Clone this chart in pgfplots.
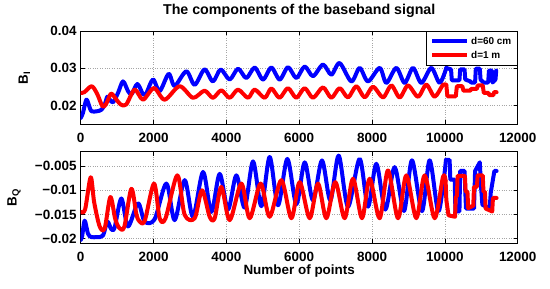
\documentclass[border=0pt]{standalone}
\usepackage{fontspec}
\setmainfont{Liberation Sans}
\usepackage{pgfplots}
\pgfplotsset{compat=1.18}
\definecolor{mblue}{RGB}{0,0,255}
\definecolor{mred}{RGB}{255,0,0}

\begin{document}
\begin{tikzpicture}
\pgfplotsset{
  panel/.style={
    scale only axis, width=437bp,
    xmin=0, xmax=12000,
    scaled ticks=false,
    xtick={0,2000,4000,6000,8000,10000,12000},
    xticklabels={0,2000,4000,6000,8000,10000,12000},
    grid=major,
    major grid style={dotted, gray!70, line width=0.6bp},
    axis line style={black, line width=0.7bp},
    tick align=inside, major tick length=4bp,
    tick style={black, line width=0.6bp},
    tick label style={font=\fontsize{13.5}{14}\selectfont\bfseries},
    xticklabel style={anchor=north, inner sep=0pt, yshift=-9bp},
    yticklabel style={anchor=east, inner sep=0pt, xshift=-4bp},
    label style={font=\fontsize{13.5}{14}\selectfont\bfseries},
  },
  sig/.style={line width=4bp, line join=round, line cap=round},
}
% invisible frame giving the reference's margins
\path (-80.7bp,31bp) rectangle (469.3bp,-258bp);

% ---------------- B_I ----------------
\begin{axis}[panel, at={(0,0)}, anchor=north west, height=93.3bp,
  ymin=0.015, ymax=0.04,
  ytick={0.02,0.03,0.04}, yticklabels={0.02,0.03,0.04},
  title={The components of the baseband signal},
  title style={font=\fontsize{14.3}{15}\selectfont\bfseries,
    at={(axis description cs:0.5,1)}, anchor=base, yshift=11bp},
  ylabel={B\textsubscript{I}},
  ylabel style={at={(axis description cs:-0.1206,0.5)}, anchor=base},
  legend style={at={(1,1)}, anchor=north east, draw=black, line width=0.7bp,
    fill=white, font=\fontsize{10}{12}\selectfont\bfseries,
    inner xsep=4bp, inner ysep=3.5bp, row sep=1.5bp, cells={anchor=west}},
  legend image code/.code={\draw[#1, line cap=butt] (0bp,0bp) -- (35bp,0bp);},
]
\addplot[sig, mblue, smooth, tension=0.5] coordinates {
 (0,0.0167) (60,0.0180) (155,0.0216) (230,0.0200) (293,0.0185) (450,0.0185)
 (570,0.0189) (660,0.0203) (731,0.0224) (800,0.0216) (888,0.0209) (1024,0.0234)
 (1162,0.0265) (1299,0.0239) (1400,0.0231) (1555,0.0258) (1711,0.0231) (1800,0.0233)
 (1985,0.0270) (2168,0.0239) (2415,0.0285) (2580,0.0253) (2900,0.0292) (3130,0.0256)
 (3400,0.0297) (3630,0.0265) (3843,0.0297) (4090,0.0270) (4320,0.0299) (4548,0.0274)
 (4777,0.0302) (5006,0.0270) (5235,0.0302) (5464,0.0270) (5693,0.0303) (5922,0.0274)
 (6150,0.0305) (6379,0.0279) (6653,0.0310) (6882,0.0283) (7111,0.0314) (7431,0.0265)
 (7660,0.0301) (7889,0.0265) (8210,0.0301) (8393,0.0261) (8667,0.0301) (8896,0.0261)
 (9125,0.0301) (9354,0.0261) (9628,0.0301) (9857,0.0261) (10040,0.0301)
};
\addlegendentry{d=60 cm}
\addplot[sig, mblue, forget plot] coordinates {
 (10040,0.0301) (10170,0.0297) (10190,0.0268) (10400,0.0268) (10420,0.0297)
 (10540,0.0297) (10560,0.0270) (10700,0.0265) (10720,0.0262) (10830,0.0262)
 (10850,0.0299) (10960,0.0299) (10980,0.0270) (11060,0.0262) (11190,0.0262)
 (11210,0.0294) (11290,0.0294) (11310,0.0262) (11390,0.0270) (11410,0.0294)
};
\addplot[sig, mred, smooth, tension=0.5] coordinates {
 (0,0.0234) (100,0.0236) (300,0.0252) (450,0.0232) (600,0.0198) (700,0.0205)
 (830,0.0232) (950,0.0220) (1100,0.0203) (1250,0.0203) (1482,0.0243) (1711,0.0216)
 (2013,0.0247) (2306,0.0216) (2717,0.0252) (3084,0.0221) (3400,0.0240) (3630,0.0221)
 (3860,0.0241) (4090,0.0221) (4320,0.0243) (4594,0.0221) (4777,0.0243) (5052,0.0221)
 (5235,0.0246) (5460,0.0221) (5690,0.0247) (5920,0.0221) (6150,0.0247) (6379,0.0221)
 (6653,0.0249) (6882,0.0221) (7111,0.0247) (7340,0.0222) (7569,0.0252) (7798,0.0222)
 (8027,0.0251) (8301,0.0222) (8530,0.0254) (8759,0.0222) (8988,0.0254) (9262,0.0224)
 (9491,0.0256) (9720,0.0224) (9949,0.0256) (10040,0.0255)
};
\addlegendentry{d=1 m}
\addplot[sig, mred, forget plot] coordinates {
 (10040,0.0255) (10070,0.0225) (10300,0.0225) (10330,0.0252) (10480,0.0252)
 (10510,0.0240) (10700,0.0240) (10720,0.0245) (10880,0.0245) (10900,0.0254)
 (11040,0.0254) (11070,0.0234) (11200,0.0234) (11220,0.0228) (11330,0.0228)
 (11350,0.0236) (11420,0.0236)
};
\end{axis}

% ---------------- B_Q ----------------
\begin{axis}[panel, at={(0,-120.7bp)}, anchor=north west, height=91.6bp,
  ymin=-0.021, ymax=-0.002,
  ytick={-0.02,-0.015,-0.01,-0.005},
  yticklabels={−0.02,−0.015,−0.01,−0.005},
  ylabel={B\textsubscript{Q}},
  ylabel style={at={(axis description cs:-0.1465,0.5)}, anchor=base},
  xlabel={Number of points},
  xlabel style={at={(axis description cs:0.5,0)}, anchor=base, yshift=-31bp},
]
\addplot[sig, mblue, smooth, tension=0.5] coordinates {
 (0,-0.0203) (40,-0.0195) (109,-0.0163) (200,-0.0190) (290,-0.0197) (450,-0.0197)
 (612,-0.0194) (731,-0.0165) (841,-0.0181) (933,-0.0177) (1116,-0.0117) (1299,-0.0175)
 (1573,-0.0127) (1757,-0.0165) (2031,-0.0160) (2352,-0.0086) (2580,-0.0162)
 (2855,-0.0079) (3084,-0.0155) (3359,-0.0062) (3587,-0.0145) (3816,-0.0066)
 (4045,-0.0140) (4274,-0.0069) (4503,-0.0136) (4732,-0.0040) (4960,-0.0133)
 (5189,-0.0031) (5418,-0.0131) (5675,-0.0035) (5922,-0.0129) (6150,-0.0042)
 (6379,-0.0121) (6626,-0.0038) (6855,-0.0121) (7084,-0.0028) (7340,-0.0134)
 (7660,-0.0035) (7889,-0.0134) (8118,-0.0045) (8365,-0.0140) (8621,-0.0052)
 (8878,-0.0143) (9097,-0.0038) (9372,-0.0143) (9582,-0.0038) (9811,-0.0143)
 (9950,-0.0090) (10030,-0.0037)
};
\addplot[sig, mblue] coordinates {
 (10030,-0.0037) (10130,-0.0037) (10150,-0.0078) (10270,-0.0078) (10290,-0.0144)
 (10400,-0.0144) (10420,-0.0060) (10540,-0.0060) (10560,-0.0100) (10580,-0.0138)
 (10800,-0.0138) (10830,-0.0060) (10960,-0.0042) (10990,-0.0090) (11030,-0.0130)
 (11230,-0.0138) (11260,-0.0105) (11360,-0.0060) (11420,-0.0060)
};
\addplot[sig, mred, smooth, tension=0.5] coordinates {
 (0,-0.0145) (120,-0.0140) (274,-0.0073) (370,-0.0125) (521,-0.0175) (659,-0.0179)
 (814,-0.0114) (950,-0.0160) (1070,-0.0179) (1200,-0.0175) (1390,-0.0097)
 (1530,-0.0150) (1619,-0.0165) (1760,-0.0163) (2013,-0.0086) (2168,-0.0158)
 (2330,-0.0158) (2653,-0.0069) (2855,-0.0151) (3130,-0.0158) (3331,-0.0100)
 (3542,-0.0155) (3679,-0.0158) (3862,-0.0093) (4091,-0.0162) (4411,-0.0086)
 (4640,-0.0158) (4942,-0.0086) (5189,-0.0155) (5510,-0.0079) (5785,-0.0158)
 (6013,-0.0083) (6287,-0.0158) (6516,-0.0086) (6745,-0.0158) (6992,-0.0083)
 (7248,-0.0158) (7477,-0.0076) (7724,-0.0158) (7935,-0.0076) (8209,-0.0158)
 (8438,-0.0059) (8713,-0.0158) (8942,-0.0069) (9216,-0.0158) (9445,-0.0069)
 (9720,-0.0158) (9949,-0.0072) (10020,-0.0080)
};
\addplot[sig, mred] coordinates {
 (10020,-0.0080) (10040,-0.0120) (10100,-0.0152) (10280,-0.0155) (10300,-0.0113)
 (10330,-0.0113) (10350,-0.0070) (10550,-0.0070) (10570,-0.0103) (10620,-0.0103)
 (10640,-0.0137) (10780,-0.0132) (10800,-0.0093) (10880,-0.0093) (10900,-0.0069)
 (11040,-0.0069) (11060,-0.0103) (11100,-0.0103) (11120,-0.0138) (11300,-0.0144)
 (11320,-0.0116) (11420,-0.0116)
};
\end{axis}
\end{tikzpicture}
\end{document}
